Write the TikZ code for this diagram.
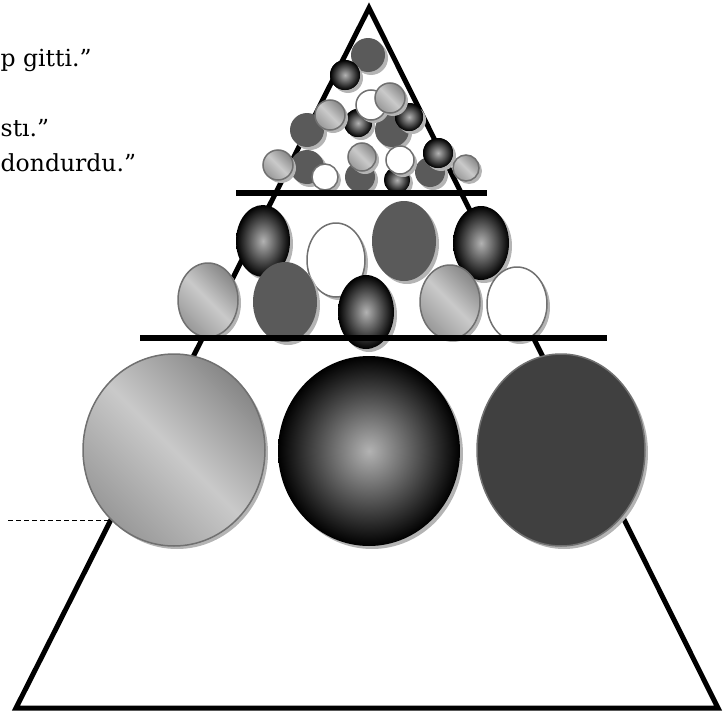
\documentclass[tikz,border=0pt]{standalone}
\usepackage{fontspec}
\setmainfont{DejaVu Serif}
\usetikzlibrary{shadows}
\definecolor{ballgray}{HTML}{5A5A5A}
\definecolor{balldark}{HTML}{404040}
\definecolor{rimgray}{HTML}{707070}
\definecolor{shadegray}{HTML}{B4B4B4}

\tikzset{
  ball shadow/.style={drop shadow={opacity=1, fill=shadegray, shadow xshift=3pt, shadow yshift=-3pt}},
  light ball/.style={ball shadow, draw=rimgray, line width=1.5pt, top color=black!47, bottom color=black!40, middle color=black!21, shading angle=-45},
  glow ball/.style={ball shadow, inner color=black!30, outer color=black},
  plain ball/.style={ball shadow, fill=ballgray},
  open ball/.style={ball shadow, draw=rimgray, line width=1.5pt, fill=white},
  rim ball/.style={ball shadow, draw=rimgray, line width=1.5pt, fill=balldark},
  quote text/.style={font=\fontsize{23.5}{28}\selectfont, inner sep=0pt}
}

\begin{document}
\begin{tikzpicture}[x=1pt, y=-1pt]
\useasboundingbox (0,0) rectangle (724,715);

% Quoted lines
\node[quote text, anchor=base west] (line one) at (0.5,66) {p gitti.”};
\node[quote text, anchor=base west] (line two) at (0.5,136) {stı.”};
\node[quote text, anchor=base west] (line three) at (0.5,171) {dondurdu.”};

% Pyramid
\draw[line width=5pt, line join=miter] (369,8) -- (718,708) -- (16,708) -- cycle;

% Dashed pointer
\coordinate (dash start) at (8,520);
\coordinate (dash end) at (109,520);
\draw[line width=0.8pt, dash pattern=on 5pt off 3pt] (dash start) -- (dash end);

% Top layer: small balls
\foreach \x/\y/\r in {368/55/17, 307/130/17, 392/130/17, 307/167/17, 360/177/15, 430/172/15}
  \fill[plain ball] (\x,\y) circle (\r);
\foreach \x/\y/\r in {345/75/15, 358/123/14, 409/117/14, 397/180/13, 438/153/15}
  \fill[glow ball] (\x,\y) circle (\r);
\foreach \x/\y/\r in {371/105/15, 325/177/13, 400/160/14}
  \filldraw[open ball] (\x,\y) circle (\r);
\foreach \x/\y/\r in {390/98/15, 330/115/15, 278/165/15, 362/157/14, 466/168/13}
  \shadedraw[light ball] (\x,\y) circle (\r);

% Middle layer: back row
\shade[glow ball] (263,241) ellipse [x radius=27, y radius=36];
\filldraw[open ball] (336,260) ellipse [x radius=29, y radius=37];
\fill[plain ball] (404,241) ellipse [x radius=32, y radius=40];
\shade[glow ball] (481,243) ellipse [x radius=28, y radius=37];

% Middle layer: front row
\shadedraw[light ball] (208,300) ellipse [x radius=30, y radius=37];
\fill[plain ball] (285,302) ellipse [x radius=32, y radius=40];
\shade[glow ball] (366,312) ellipse [x radius=28, y radius=37];
\shadedraw[light ball] (450,302) ellipse [x radius=30, y radius=37];
\filldraw[open ball] (517,304) ellipse [x radius=30, y radius=37];

% Bottom layer: big balls
\shadedraw[light ball] (174,450) ellipse [x radius=91, y radius=96];
\shade[glow ball] (369,451) ellipse [x radius=91, y radius=95];
\filldraw[rim ball] (561,450) ellipse [x radius=84, y radius=96];

% Layer bars
\draw[line width=6pt] (236,193) -- (487,193);
\draw[line width=6pt] (140,338) -- (607,338);

\end{tikzpicture}
\end{document}
